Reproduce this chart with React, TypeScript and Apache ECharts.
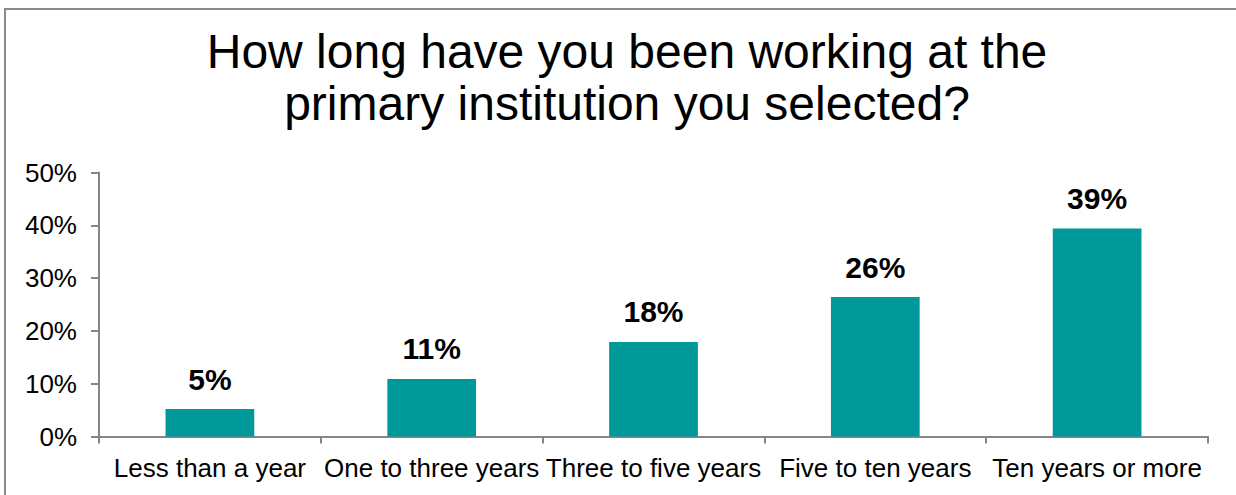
import React, { useEffect, useRef } from "react";
import * as echarts from "echarts";

const titleLines = ["How long have you been working at the", "primary institution you selected?"];
const categories = ["Less than a year", "One to three years", "Three to five years", "Five to ten years", "Ten years or more"];
const values = [5.2, 10.9, 17.9, 26.4, 39.4];
const yTicks = [0, 10, 20, 30, 40, 50];

export default function App() {
  const ref = useRef<HTMLDivElement>(null);
  useEffect(() => {
    if (!ref.current) return;
    const chart = echarts.init(ref.current, null, { renderer: "svg" });
    const font = "Liberation Sans, Arial, sans-serif";
    chart.setOption({
      animation: false,
      backgroundColor: "#ffffff",
      title: {
        text: titleLines.join("\n"),
        left: 622,
        textAlign: "center",
        top: 20,
        textStyle: { fontFamily: font, fontSize: 48, fontWeight: "normal", color: "#000", lineHeight: 52 },
      },
      graphic: [
        {
          type: "rect",
          shape: { x: 5, y: 9, width: 1400, height: 700 },
          style: { fill: "none", stroke: "#8a8a8a", lineWidth: 2 },
          silent: true,
        },
      ],
      grid: { left: 99, right: 28, top: 172.5, bottom: 58.5 },
      xAxis: {
        type: "category",
        data: categories,
        axisLine: { show: true, lineStyle: { color: "#868686", width: 2 } },
        axisTick: { show: true, alignWithLabel: false, length: 7, lineStyle: { color: "#868686", width: 2 } },
        axisLabel: { interval: 0, fontFamily: font, fontSize: 26, color: "#000", margin: 18 },
      },
      yAxis: {
        type: "value",
        min: yTicks[0],
        max: yTicks[yTicks.length - 1],
        interval: 10,
        splitLine: { show: false },
        axisLine: { show: true, lineStyle: { color: "#868686", width: 2 } },
        axisTick: { show: true, length: 8, lineStyle: { color: "#868686", width: 2 } },
        axisLabel: { fontFamily: font, fontSize: 26, color: "#000", margin: 22, formatter: (v: number) => v + "%" },
      },
      series: [
        {
          type: "bar",
          data: values,
          barWidth: "40%",
          itemStyle: { color: "#009999" },
          label: {
            show: true,
            position: "top",
            distance: 15,
            fontFamily: font,
            fontSize: 30,
            fontWeight: "bold",
            color: "#000",
            formatter: (p: any) => Math.round(p.value) + "%",
          },
        },
      ],
    });
    return () => chart.dispose();
  }, []);
  return <div ref={ref} style={{ position: "absolute", left: 0, top: 0, width: 1236, height: 495 }} />;
}
